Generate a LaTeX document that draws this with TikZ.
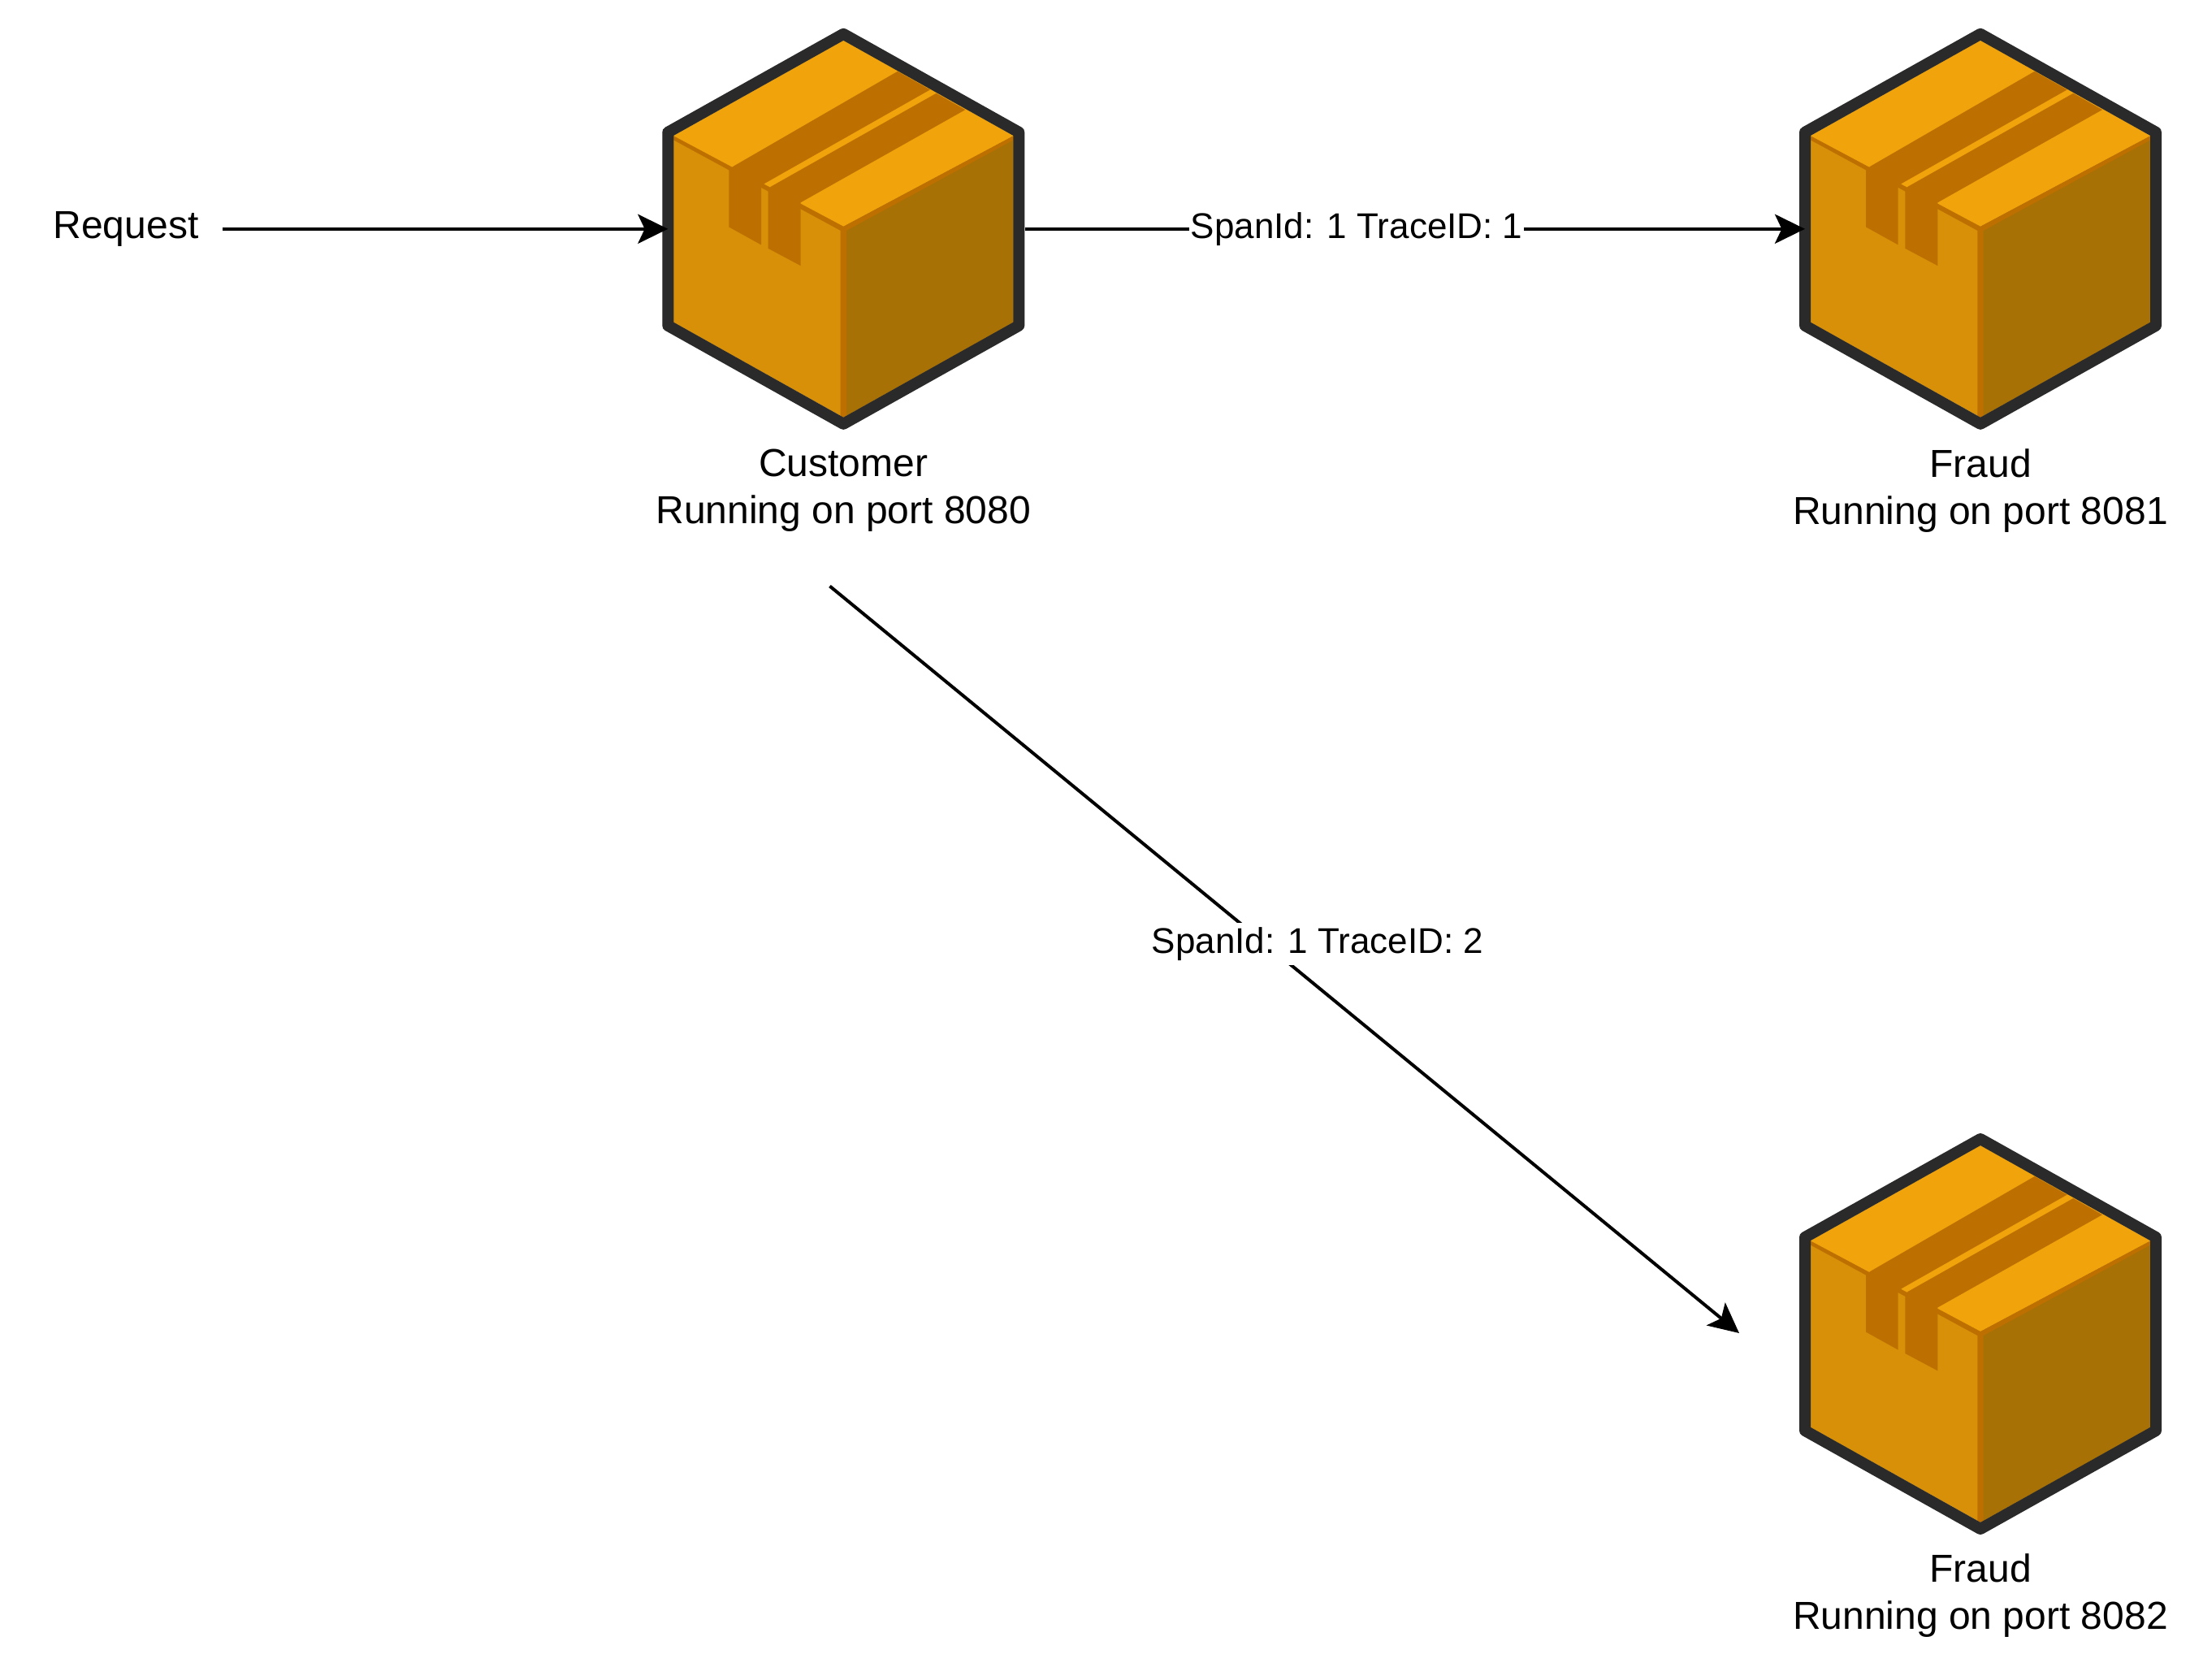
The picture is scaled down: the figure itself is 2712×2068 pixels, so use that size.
\documentclass[tikz,border=0pt]{standalone}
\usepackage{fontspec}
\setmainfont{Liberation Sans}
\usepackage{xcolor}
\usetikzlibrary{positioning, arrows.meta}

\definecolor{cratetop}{HTML}{F0A30A}
\definecolor{crateleft}{HTML}{D79008}
\definecolor{crateright}{HTML}{A87105}
\definecolor{cratetape}{HTML}{BD7000}
\definecolor{crateline}{HTML}{2A2A2A}

\tikzset{
    pics/crate/.style = {code = {
        \fill[crateleft] (0,-232) -- (209.3,-114.6) -- (209.3,115) -- (0,232) -- (-209.3,115) -- (-209.3,-114.6) -- cycle;
        \fill[crateright] (0,-3) -- (209.3,-114.6) -- (209.3,115) -- (0,232) -- cycle;
        \fill[cratetop] (0,-232) -- (209.3,-114.6) -- (0,-3) -- (-209.3,-114.6) -- cycle;
        \fill[cratetape] (-209.3,-114.6) -- (0,-3) -- (209.3,-114.6) -- (209.3,-109.5) -- (3.7,2) -- (3.7,230) -- (0,232) -- (-3.7,230) -- (-3.7,2) -- (-209.3,-109.5) -- cycle;
        \fill[cratetape] (-135,-77.4) -- (66.7,-194) -- (106.7,-171.4) -- (-96.7,-56.1) -- (-101.3,-52.1) -- (-101.3,19.6) -- (-141,-2.4) -- (-141,-73) -- cycle;
        \fill[cratetape] (-89.3,-52.1) -- (114.3,-167) -- (150,-146.7) -- (-52.7,-32.5) -- (-52.7,45.3) -- (-92.7,24) -- (-92.7,-48.7) -- cycle;
        \draw[crateline, line width=3.5pt, line join=round] (0,-240) -- (216,-119) -- (216,119) -- (0,240) -- (-216,119) -- (-216,-119) -- cycle;
        \coordinate (-in) at (-216,0);
        \coordinate (-out) at (224,0);
        \node[main] (-label) at (0,322) {#1};
    }}
}

\begin{document}
\begin{tikzpicture}[x=0.25pt, y=-0.25pt,
    main/.style = {align=center, inner sep=0pt, font=\fontsize{12}{14.4}\selectfont},
    link/.style = {line width=1pt, -{Stealth[length=9.25pt, width=9pt, inset=2.1pt]}},
    trace/.style = {fill=white, inner xsep=0.5pt, inner ysep=0pt, minimum height=13pt, font=\fontsize{11}{13.2}\selectfont}]
    \useasboundingbox (0,0) rectangle (2712,2068);
    \pic (customer) at (1038.3,281.8) {crate={Customer\\Running on port 8080}};
    \pic (fraudtop) at (2438,281.8) {crate={Fraud\\Running on port 8081}};
    \pic (fraudlow) at (2438,1642) {crate={Fraud\\Running on port 8082}};
    \node[main, inner xsep=18\pgflinewidth] (request) at (155,281.8) {Request};
    \coordinate (calltop) at (1021.5,721.5);
    \coordinate (calllow) at (2141,1641);
    \draw[link] (request.east) -- (customer-in);
    \draw[link] (customer-out) -- node[trace, pos=0.425] (spantop) {SpanId: 1 TraceID: 1} (fraudtop-in);
    \draw[link] (calltop) -- (calllow);
    \node[trace] (spanlow) at (1622,1162) {SpanId: 1 TraceID: 2};
\end{tikzpicture}
\end{document}
